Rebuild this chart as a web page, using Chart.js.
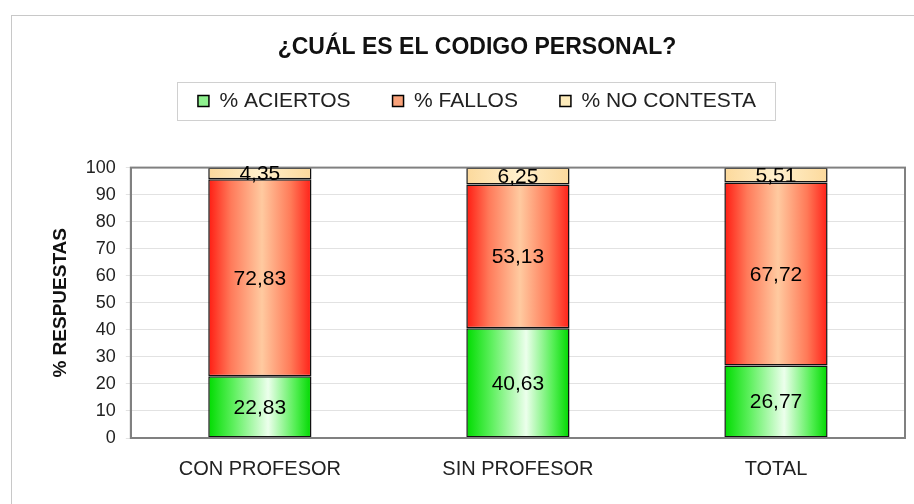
<!DOCTYPE html>
<html>
<head>
<meta charset="utf-8">
<script src="https://cdn.jsdelivr.net/npm/chart.js@4/dist/chart.umd.min.js"></script>
<style>
  html, body { margin: 0; padding: 0; background: #fff; }
  #wrap { width: 914px; height: 504px; }
</style>
</head>
<body>
<div id="wrap"><canvas id="myChart" width="914" height="504"></canvas></div>
<script>
let categories = ["CON PROFESOR", "SIN PROFESOR", "TOTAL"];
let series_names = ["% ACIERTOS", "% FALLOS", "% NO CONTESTA"];
let aciertos = [22.83, 40.63, 26.77];
let fallos = [72.83, 53.13, 67.72];
let no_contesta = [4.35, 6.25, 5.51];
let y_ticks = [0, 10, 20, 30, 40, 50, 60, 70, 80, 90, 100];

let font_fam = "'Liberation Sans', Arial, sans-serif";
let bar_pct = 0.4;

// horizontal gradients like the old excel fill
let grad_stops = [
	[[0, "#00dc00"], [0.25, "#60f060"], [0.58, "#ecffec"], [0.85, "#50ee50"], [1, "#00d800"]],
	[[0, "#ff1c12"], [0.22, "#ff7a5a"], [0.52, "#ffcaa0"], [0.8, "#ff7a58"], [1, "#ff2018"]],
	[[0, "#fcd99c"], [0.5, "#fff0cc"], [1, "#fcd99c"]]
];
let legend_colors = ["#8ef08e", "#f9a27a", "#fdebbb"];

function fmt(v) { return v.toFixed(2).replace(".", ","); }

function barGradient(c, i) {
	let chart = c.chart;
	let xs = chart.scales.x;
	if (!xs || c.type !== "data" || !xs.width) return grad_stops[i][1][1];
	let cx = xs.getPixelForValue(c.dataIndex);
	let half = xs.width / categories.length * bar_pct / 2;
	let g = chart.ctx.createLinearGradient(cx - half, 0, cx + half, 0);
	grad_stops[i].forEach(s => g.addColorStop(s[0], s[1]));
	return g;
}

// frame, legend box, plot border, value labels
const framePlugin = {
	id: "framePlugin",
	beforeInit(chart) {
		const fit = chart.legend.fit;
		chart.legend.fit = function () {
			fit.bind(chart.legend)();
			this.height += 46;
		};
	},
	beforeDraw(chart) {
		const ctx = chart.ctx;
		ctx.save();
		ctx.strokeStyle = "#c8c8c8";
		ctx.lineWidth = 1;
		ctx.strokeRect(11.5, 15.5, 940, 520);
		const lg = chart.legend;
		if (lg && lg.legendHitBoxes.length) {
			let hb = lg.legendHitBoxes;
			let l = hb[0].left - 21;
			let r = hb[hb.length - 1].left + hb[hb.length - 1].width + 19;
			let cy = hb[0].top + hb[0].height / 2;
			ctx.strokeStyle = "#d0d0d0";
			ctx.strokeRect(Math.round(l) + 0.5, Math.round(cy - 19) + 0.5, Math.round(r - l), 38);
		}
		ctx.restore();
	},
	afterDatasetsDraw(chart) {
		const ctx = chart.ctx;
		const a = chart.chartArea;
		ctx.save();
		ctx.strokeStyle = "#808080";
		ctx.lineWidth = 2;
		ctx.strokeRect(a.left, a.top, a.right - a.left, a.bottom - a.top);
		ctx.fillStyle = "#000";
		ctx.font = "21px " + font_fam;
		ctx.textAlign = "center";
		ctx.textBaseline = "middle";
		chart.data.datasets.forEach((ds, di) => {
			chart.getDatasetMeta(di).data.forEach((bar, i) => {
				let y = (bar.y + bar.base) / 2;
				ctx.fillText(fmt(ds.data[i]), bar.x, y + 1);
			});
		});
		ctx.restore();
	}
};

let data = {
	labels: categories,
	datasets: [
		{ label: series_names[0], data: aciertos, backgroundColor: c => barGradient(c, 0) },
		{ label: series_names[1], data: fallos, backgroundColor: c => barGradient(c, 1) },
		{ label: series_names[2], data: no_contesta, backgroundColor: c => barGradient(c, 2) }
	]
};
data.datasets.forEach(ds => {
	ds.borderColor = "#111";
	ds.borderWidth = 1.5;
	ds.borderSkipped = false;
	ds.barPercentage = bar_pct;
	ds.categoryPercentage = 1;
});

let options = {
	responsive: false,
	animation: false,
	layout: { padding: { left: 49, right: 9, top: 0, bottom: 12 } },
	scales: {
		x: {
			stacked: true,
			grid: { display: false },
			border: { color: "#808080", width: 2 },
			ticks: { color: "#222", padding: 11, font: { size: 20, family: font_fam } }
		},
		y: {
			stacked: true,
			min: 0,
			max: 100,
			afterBuildTicks: axis => { axis.ticks = y_ticks.map(v => ({ value: v })); },
			grid: { color: "#e2e2e2", tickLength: 5 },
			border: { color: "#808080", width: 2 },
			ticks: { color: "#222", padding: 10, font: { size: 18, family: font_fam } },
			title: {
				display: true,
				text: "% RESPUESTAS",
				color: "#111",
				padding: { top: 0, bottom: 4 },
				font: { size: 19, weight: "bold", family: font_fam }
			}
		}
	},
	plugins: {
		title: {
			display: true,
			text: "¿CUÁL ES EL CODIGO PERSONAL?",
			color: "#111",
			padding: { top: 34, bottom: -13 },
			font: { size: 23, weight: "bold", family: font_fam }
		},
		legend: {
			display: true,
			position: "top",
			labels: {
				boxWidth: 11,
				boxHeight: 11,
				padding: 42,
				color: "#222",
				font: { size: 21, family: font_fam },
				generateLabels: function (chart) {
					return series_names.map((n, i) => ({
						text: n, fillStyle: legend_colors[i], strokeStyle: "#000",
						lineWidth: 1.5, datasetIndex: i, hidden: false, fontColor: "#222"
					}));
				}
			}
		},
		tooltip: { enabled: false }
	}
};

const ctx = document.getElementById("myChart").getContext("2d");
let myChart = new Chart(ctx, { type: "bar", data, options, plugins: [framePlugin] });
</script>
</body>
</html>
